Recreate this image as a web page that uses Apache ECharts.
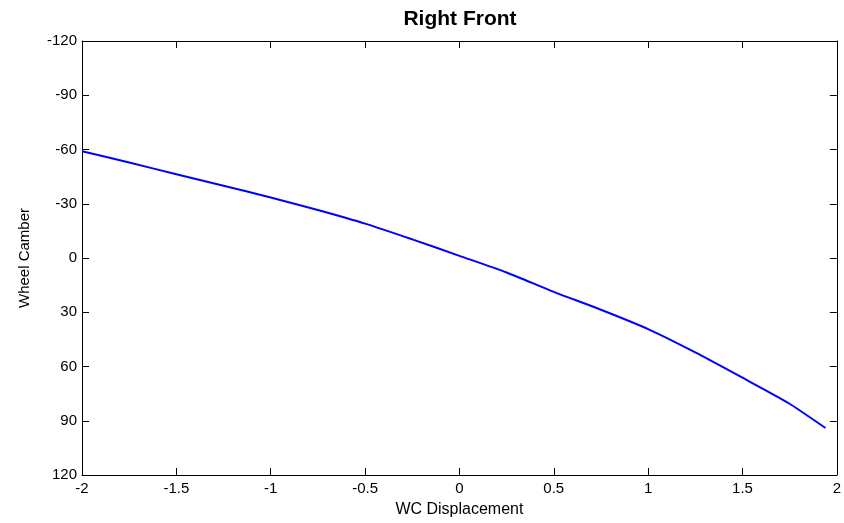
<!DOCTYPE html>
<html>
<head>
<meta charset="utf-8">
<script src="https://cdn.jsdelivr.net/npm/echarts@6/dist/echarts.min.js"></script>
<style>
  html, body { margin: 0; padding: 0; background: #fff; }
  #chart { width: 844px; height: 523px; }
</style>
</head>
<body>
<div id="chart"></div>
<script>
// Wheel displacement (x) and resulting camber (y)
const displacement = [-2.0, -1.75, -1.5, -1.25, -1.0, -0.75, -0.5, -0.25, 0.0, 0.25, 0.5, 0.75, 1.0, 1.25, 1.5, 1.75, 1.94];
const camber = [-59, -52.8, -46.3, -40, -33.5, -26.5, -19, -10.3, -1.2, 8, 18.7, 28.6, 39.3, 52.2, 66.2, 80.6, 94];

const titleText = 'Right Front';
const xName = 'WC Displacement';
const yName = 'Wheel Camber';

const font = '"Liberation Sans", Arial, sans-serif';
const axisLine = { show: true, onZero: false, lineStyle: { color: '#000', width: 1 } };
const tick = { show: true, inside: true, length: 7, lineStyle: { color: '#000' } };
const label = { color: '#000', fontFamily: font, fontSize: 15 };

const chart = echarts.init(document.getElementById('chart'), null, { renderer: 'canvas' });
chart.setOption({
  animation: false,
  backgroundColor: '#fff',
  title: {
    text: titleText,
    left: 455, top: 4, textAlign: 'center',
    textStyle: { fontFamily: font, fontSize: 21, fontWeight: 'bold', color: '#000' }
  },
  grid: { left: 82, top: 41, right: 3, bottom: 46, containLabel: false },
  xAxis: [{
    type: 'value', min: -2, max: 2, interval: 0.5,
    name: xName, nameLocation: 'middle', nameGap: 27,
    nameTextStyle: { color: '#000', fontFamily: font, fontSize: 16 },
    axisLine, axisTick: tick, splitLine: { show: false },
    axisLabel: Object.assign({ margin: 6 }, label)
  }, {
    type: 'value', position: 'top', min: -2, max: 2, interval: 0.5,
    axisLine, axisTick: tick, splitLine: { show: false }, axisLabel: { show: false }
  }],
  yAxis: [{
    type: 'value', min: -120, max: 120, interval: 30, inverse: true,
    name: yName, nameLocation: 'middle', nameGap: 50,
    nameTextStyle: { color: '#000', fontFamily: font, fontSize: 15 },
    axisLine, axisTick: tick, splitLine: { show: false },
    axisLabel: Object.assign({ margin: 5 }, label)
  }, {
    type: 'value', position: 'right', min: -120, max: 120, interval: 30, inverse: true,
    axisLine, axisTick: tick, splitLine: { show: false }, axisLabel: { show: false }
  }],
  series: [{
    type: 'line',
    data: displacement.map((x, i) => [x, camber[i]]),
    smooth: 0.25,
    showSymbol: false,
    lineStyle: { color: '#0000ff', width: 2 }
  }]
});
</script>
</body>
</html>
